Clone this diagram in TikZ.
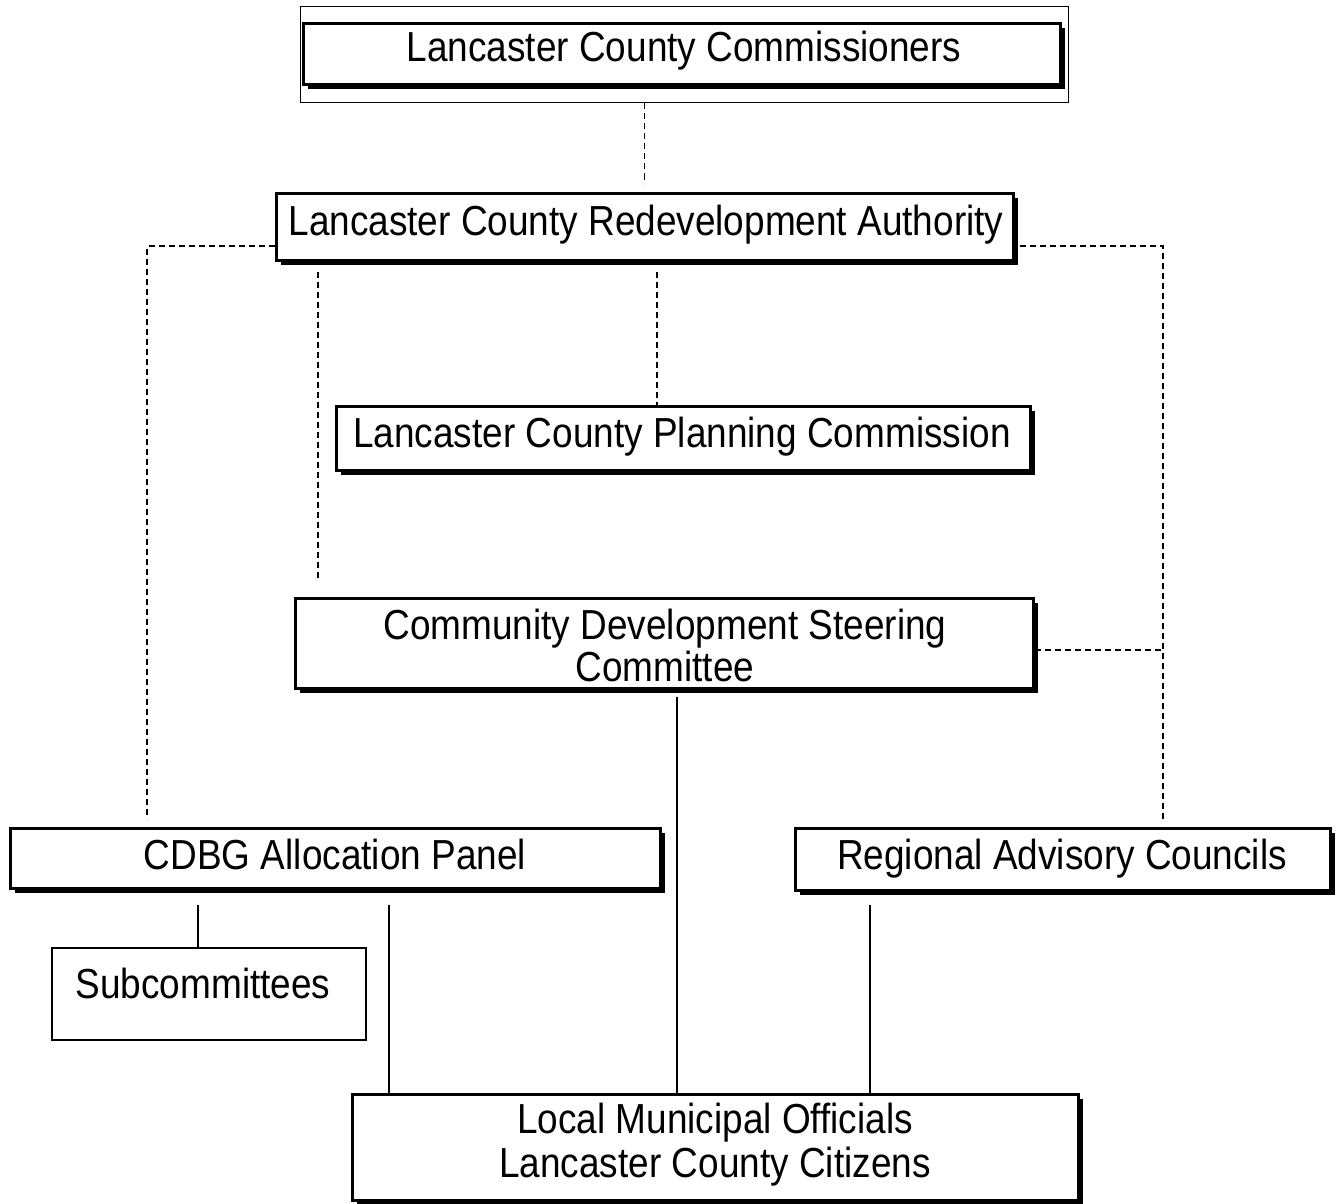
\documentclass[tikz,border=0pt]{standalone}
\usepackage{fontspec}
\setmainfont{Liberation Sans}[FakeStretch=0.88]
\usetikzlibrary{shadows,calc}
\newcommand\boxfont{\fontsize{42}{43}\selectfont}
\begin{document}
\begin{tikzpicture}[x=1pt,y=-1pt,
  box/.style={draw, line width=3pt, fill=white, inner sep=0pt,
    drop shadow={shadow xshift=4.5pt, shadow yshift=-4.5pt, opacity=1, fill=black}},
  thinbox/.style={draw, line width=1.3pt, inner sep=0pt},
  frame/.style={draw, line width=1pt, inner sep=0pt},
  txt/.style={font=\boxfont, inner sep=0pt, anchor=base},
  dashline/.style={dash pattern=on 6pt off 4pt, line width=1.3pt},
  solidline/.style={line width=1.6pt}]
\useasboundingbox (0,0) rectangle (1336,1204);
\fill[white] (0,0) rectangle (1336,1204);

% boxes
\node[frame, minimum width=768pt, minimum height=96pt] (Aout) at (684,55) {};
\node[box, minimum width=757pt, minimum height=61pt] (A) at (681.5,54.5) {};
\node[box, minimum width=737pt, minimum height=67pt] (B) at (644.5,226.5) {};
\node[box, minimum width=694pt, minimum height=64pt] (C) at (683,438) {};
\node[box, minimum width=738pt, minimum height=90pt] (D) at (664,643) {};
\node[box, minimum width=650pt, minimum height=60pt] (E) at (335,858) {};
\node[box, minimum width=535pt, minimum height=62pt] (F) at (1062.5,859) {};
\node[thinbox, minimum width=314pt, minimum height=92pt] (G) at (209,994) {};
\node[box, minimum width=726pt, minimum height=106pt] (H) at (715,1147) {};

% texts
\node[txt] (tA) at (684,62) {Lancaster County Commissioners};
\node[txt] (tB) at (646,235) {Lancaster County Redevelopment Authority};
\node[txt] (tC) at (682,447) {Lancaster County Planning Commission};
\node[txt] (tD1) at (665,639) {Community Development Steering};
\node[txt] (tD2) at (665,681) {Committee};
\node[txt] (tE) at (335,869) {CDBG Allocation Panel};
\node[txt] (tF) at (1062,869) {Regional Advisory Councils};
\node[txt] (tG) at (203,998) {Subcommittees};
\node[txt] (tH1) at (715,1133) {Local Municipal Officials};
\node[txt] (tH2) at (715,1177) {Lancaster County Citizens};

% helper coordinates
\coordinate (LT) at (147,246);
\coordinate (RT) at (1163,246);
\coordinate (RM) at (1163,650);
\coordinate (X318) at (318,0);
\coordinate (X657) at (657,0);
\coordinate (X677) at (677,0);
\coordinate (X198) at (198,0);
\coordinate (X389) at (389,0);
\coordinate (X870) at (870,0);

% dashed connectors
\draw[dashline] (B.north |- Aout.south) -- ($(B.north)+(0,-8)$);
\draw[dashline] (B.west |- LT) -- (LT) -- ($(LT |- E.north)+(0,-8)$);
\draw[dashline] ($(B.east |- RT)+(5,0)$) -- (RT) -- ($(RT |- F.north)+(0,-8)$);
\draw[dashline] (D.east |- RM) -- (RM);
\draw[dashline] ($(B.south -| X657)+(0,10)$) -- (C.north -| X657);
\draw[dashline] ($(B.south -| X318)+(0,10)$) -- ($(D.north -| X318)+(0,-18)$);

% solid connectors
\draw[solidline] ($(D.south -| X677)+(0,7)$) -- (H.north -| X677);
\draw[solidline] ($(E.south -| X198)+(0,15)$) -- (G.north -| X198);
\draw[solidline] ($(E.south -| X389)+(0,15)$) -- (H.north -| X389);
\draw[solidline] ($(F.south -| X870)+(0,13)$) -- (H.north -| X870);
\end{tikzpicture}
\end{document}
